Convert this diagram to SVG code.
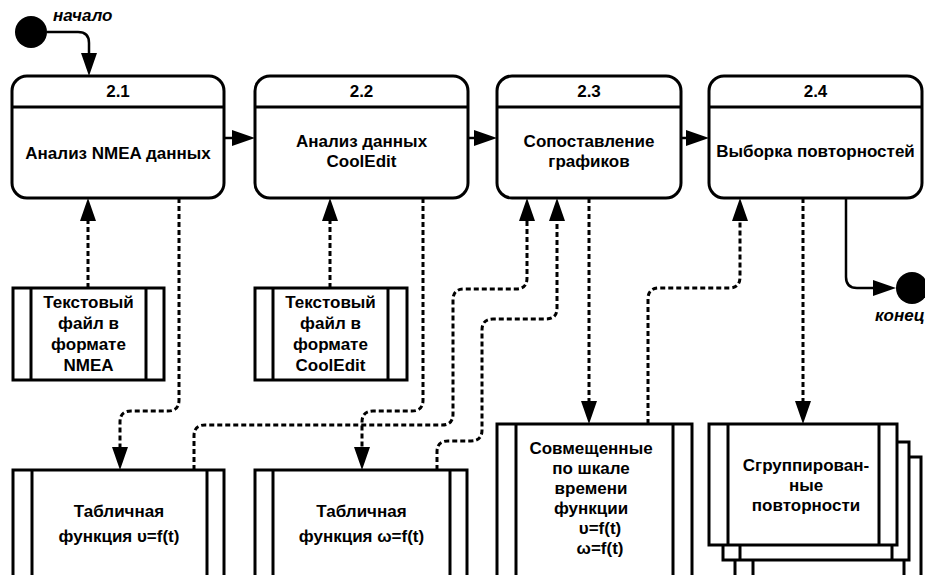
<svg xmlns="http://www.w3.org/2000/svg" width="925" height="575" viewBox="0 0 925 575">
<style>
  .box { fill: #fff; stroke: #000; stroke-width: 3; }
  .ln { fill: none; stroke: #000; stroke-width: 3; }
  .sol { fill: none; stroke: #000; stroke-width: 2.5; }
  .dash { fill: none; stroke: #000; stroke-width: 3; stroke-dasharray: 5 3; }
  text { font-family: "Liberation Sans", Arial, sans-serif; font-weight: bold; font-size: 17px; fill: #000; text-anchor: middle; }
  .lbl { font-style: italic; text-anchor: start; }
</style>
<defs>
  <marker id="arr" markerUnits="userSpaceOnUse" markerWidth="26" markerHeight="18" refX="13" refY="8" orient="auto">
    <path d="M0,0 L23,8 L0,16 Z" fill="#000"/>
  </marker>
</defs>

<g id="start">
  <circle cx="31" cy="32" r="16" fill="#000"/>
  <text class="lbl" x="53" y="21">начало</text>
</g>

<g id="end">
  <circle cx="912" cy="288" r="16" fill="#000"/>
  <text class="lbl" x="875" y="321">конец</text>
</g>

<g id="n21">
  <rect class="box" x="12" y="76" width="212" height="122" rx="15"/>
  <line class="ln" x1="12" y1="107" x2="224" y2="107"/>
  <text x="118" y="97">2.1</text>
  <text x="118" y="159">Анализ NMEA данных</text>
</g>

<g id="n22">
  <rect class="box" x="255" y="76" width="213" height="122" rx="15"/>
  <line class="ln" x1="255" y1="107" x2="468" y2="107"/>
  <text x="361.5" y="97">2.2</text>
  <text x="361.5" y="147">Анализ данных</text>
  <text x="361.5" y="167">CoolEdit</text>
</g>

<g id="n23">
  <rect class="box" x="497" y="76" width="184" height="122" rx="15"/>
  <line class="ln" x1="497" y1="107" x2="681" y2="107"/>
  <text x="589" y="97">2.3</text>
  <text x="589" y="147">Сопоставление</text>
  <text x="589" y="167">графиков</text>
</g>

<g id="n24">
  <rect class="box" x="709" y="76" width="213" height="122" rx="15"/>
  <line class="ln" x1="709" y1="107" x2="922" y2="107"/>
  <text x="815.5" y="97">2.4</text>
  <text x="815.5" y="157">Выборка повторностей</text>
</g>

<g id="fileNMEA">
  <rect class="box" x="13" y="288" width="151" height="92"/>
  <line class="ln" x1="31" y1="288" x2="31" y2="380"/>
  <line class="ln" x1="146" y1="288" x2="146" y2="380"/>
  <text x="88.5" y="308">Текстовый</text>
  <text x="88.5" y="329">файл в</text>
  <text x="88.5" y="350">формате</text>
  <text x="88.5" y="371">NMEA</text>
</g>

<g id="fileCoolEdit">
  <rect class="box" x="255" y="288" width="152" height="92"/>
  <line class="ln" x1="273" y1="288" x2="273" y2="380"/>
  <line class="ln" x1="388" y1="288" x2="388" y2="380"/>
  <text x="330.5" y="308">Текстовый</text>
  <text x="330.5" y="329">файл в</text>
  <text x="330.5" y="350">формате</text>
  <text x="330.5" y="371">CoolEdit</text>
</g>

<g id="table1">
  <rect class="box" x="13" y="470" width="211" height="130"/>
  <line class="ln" x1="32" y1="470" x2="32" y2="600"/>
  <line class="ln" x1="207" y1="470" x2="207" y2="600"/>
  <text x="119" y="517">Табличная</text>
  <text x="119" y="542">функция υ=f(t)</text>
</g>

<g id="table2">
  <rect class="box" x="255" y="470" width="212" height="130"/>
  <line class="ln" x1="273" y1="470" x2="273" y2="600"/>
  <line class="ln" x1="450" y1="470" x2="450" y2="600"/>
  <text x="361.5" y="517">Табличная</text>
  <text x="361.5" y="542">функция ω=f(t)</text>
</g>

<g id="table3">
  <rect class="box" x="497" y="424" width="195" height="176"/>
  <line class="ln" x1="516" y1="424" x2="516" y2="600"/>
  <line class="ln" x1="673" y1="424" x2="673" y2="600"/>
  <text x="591" y="454">Совмещенные</text>
  <text x="591" y="474">по шкале</text>
  <text x="591" y="494">времени</text>
  <text x="591" y="514">функции</text>
  <text x="600" y="534">υ=f(t)</text>
  <text x="600" y="554">ω=f(t)</text>
</g>

<g id="table4">
  <rect class="box" x="735" y="457" width="186" height="143"/>
  <line class="ln" x1="753" y1="457" x2="753" y2="600"/>
  <line class="ln" x1="904" y1="457" x2="904" y2="600"/>
  <rect class="box" x="723" y="442" width="186" height="118"/>
  <line class="ln" x1="740" y1="442" x2="740" y2="560"/>
  <line class="ln" x1="892" y1="442" x2="892" y2="560"/>
  <rect class="box" x="709" y="424" width="188" height="121"/>
  <line class="ln" x1="728" y1="424" x2="728" y2="545"/>
  <line class="ln" x1="879" y1="424" x2="879" y2="545"/>
  <text x="806" y="471">Сгруппирован-</text>
  <text x="806" y="491">ные</text>
  <text x="806" y="511">повторности</text>
</g>

<g id="connectors">
  <path class="sol" d="M47,32 H78 Q89,32 89,43 V66" marker-end="url(#arr)"/>
  <path class="sol" d="M224,138 H245" marker-end="url(#arr)"/>
  <path class="sol" d="M468,138 H487" marker-end="url(#arr)"/>
  <path class="sol" d="M681,138 H699" marker-end="url(#arr)"/>
  <path class="sol" d="M846,198 V277 Q846,288 857,288 H886" marker-end="url(#arr)"/>

  <path class="dash" d="M88,288 V208" marker-end="url(#arr)"/>
  <path class="dash" d="M330,288 V208" marker-end="url(#arr)"/>
  <path class="dash" d="M179,198 V400 Q179,411 168,411 H131 Q120,411 120,422 V460" marker-end="url(#arr)"/>
  <path class="dash" d="M423,198 V400 Q423,411 412,411 H373 Q362,411 362,422 V460" marker-end="url(#arr)"/>
  <path class="dash" d="M194,470 V436 Q194,425 205,425 H442 Q453,425 453,414 V300 Q453,289 464,289 H516 Q527,289 527,278 V208" marker-end="url(#arr)"/>
  <path class="dash" d="M437,470 V452 Q437,441 448,441 H471 Q482,441 482,430 V330 Q482,319 493,319 H546 Q557,319 557,308 V208" marker-end="url(#arr)"/>
  <path class="dash" d="M589,198 V414" marker-end="url(#arr)"/>
  <path class="dash" d="M648,424 V299 Q648,288 659,288 H729 Q740,288 740,277 V208" marker-end="url(#arr)"/>
  <path class="dash" d="M803,198 V414" marker-end="url(#arr)"/>
</g>
</svg>
